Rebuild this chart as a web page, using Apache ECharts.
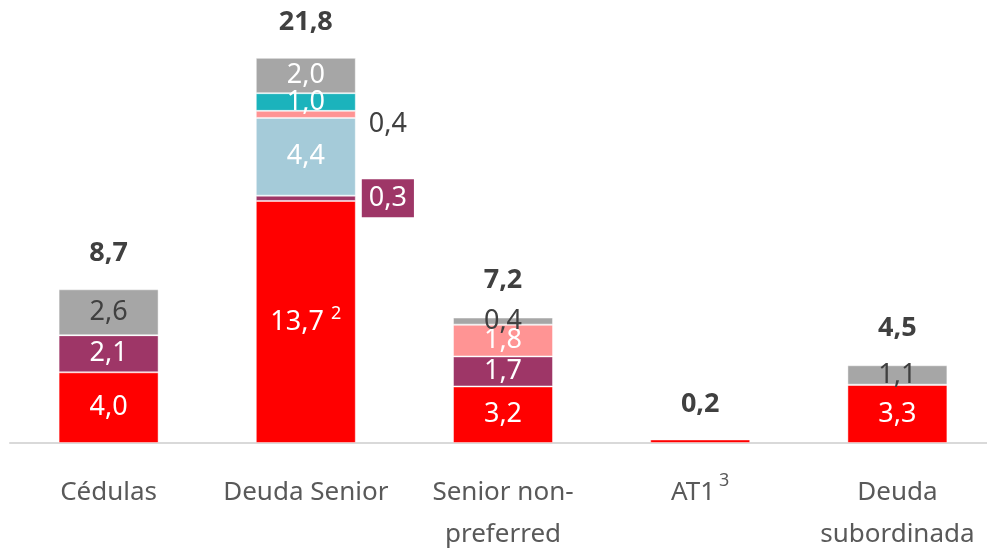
<!DOCTYPE html>
<html>
<head>
<meta charset="utf-8">
<script src="https://cdn.jsdelivr.net/npm/echarts@6/dist/echarts.min.js"></script>
<style>
  html, body { margin: 0; padding: 0; background: #fff; }
  #main { width: 987px; height: 553px; }
</style>
</head>
<body>
<div id="main"></div>
<script>
// categorias
var categorias = ['Cédulas', 'Deuda Senior', 'Senior non-\npreferred', 'AT1', 'Deuda\nsubordinada'];

// tramos apilados (mm EUR), de abajo arriba
var rojo     = [4.0, 13.7, 3.2, 0.2, 3.3];
var morado   = [2.1, 0.3, 1.7, 0, 0];
var azul     = [0, 4.4, 0, 0, 0];
var salmon   = [0, 0.4, 1.8, 0, 0];
var turquesa = [0, 1.0, 0, 0, 0];
var gris     = [2.6, 2.0, 0.4, 0, 1.1];

// totales que se muestran encima
var totales = [8.7, 21.8, 7.2, 0.2, 4.5];

var fuente = '"Noto Sans", "Open Sans", sans-serif';
var oscuro = '#404040';

function coma(v) {
    return v.toFixed(1).replace('.', ',');
}

function tramo(nombre, datos, color, colorTexto) {
    return {
        name: nombre,
        type: 'bar',
        stack: 'total',
        barWidth: 100,
        barGap: '-100%',
        itemStyle: { color: color, borderColor: 'rgba(255,255,255,0.45)', borderWidth: 1 },
        label: {
            show: true,
            position: 'inside',
            color: colorTexto,
            fontFamily: fuente,
            fontSize: 27,
            formatter: function (p) { return p.value ? coma(p.value) : ''; }
        },
        data: datos.slice()
    };
}

var sRojo = tramo('rojo', rojo, '#FF0000', '#fff');
// 13,7 con llamada 2
sRojo.label.formatter = function (p) {
    if (p.dataIndex === 1) return coma(p.value) + ' {sup|2}';
    return coma(p.value);
};
sRojo.label.rich = { sup: { fontSize: 18, color: '#fff', fontFamily: fuente, verticalAlign: 'top', padding: [0, 0, 16, 0] } };
sRojo.data[3] = { value: rojo[3], label: { show: false } };

var sMorado = tramo('morado', morado, '#9E3667', '#fff');
sMorado.data[1] = {
    value: morado[1],
    label: { position: 'right', distance: 6, backgroundColor: '#9E3667', padding: [6, 7, 5, 7] }
};

var sAzul = tramo('azul', azul, '#A5CBD9', '#fff');

var sSalmon = tramo('salmon', salmon, '#FF9494', '#fff');
sSalmon.data[1] = {
    value: salmon[1],
    label: { position: 'right', distance: 13, offset: [0, 10], color: oscuro }
};

var sTurquesa = tramo('turquesa', turquesa, '#1BB3BC', '#fff');

var sGris = tramo('gris', gris, '#A6A6A6', oscuro);
sGris.data[1] = { value: gris[1], label: { color: '#fff' } };

var sTotal = {
    name: 'total',
    type: 'bar',
    barWidth: 100,
    barGap: '-100%',
    z: 1,
    itemStyle: { color: 'rgba(0,0,0,0)' },
    label: {
        show: true,
        position: 'top',
        distance: 22,
        color: oscuro,
        fontFamily: fuente,
        fontSize: 27,
        fontWeight: 'bold',
        formatter: function (p) { return coma(p.value); }
    },
    data: totales
};

var myChart = echarts.init(document.getElementById('main'));
var option = {
    animation: false,
    grid: { left: 10, width: 986, top: 19, bottom: 110, outerBoundsMode: 'none', containLabel: false },
    xAxis: {
        type: 'category',
        data: categorias,
        axisLine: { lineStyle: { color: '#D9D9D9', width: 2 } },
        axisTick: { show: false },
        axisLabel: {
            interval: 0,
            hideOverlap: false,
            color: '#595959',
            fontFamily: fuente,
            fontSize: 26,
            lineHeight: 42,
            margin: 29,
            formatter: function (v) { return v === 'AT1' ? 'AT1{sup|3}' : v; },
            rich: { sup: { fontSize: 18, color: '#595959', fontFamily: fuente, verticalAlign: 'top', padding: [0, 0, 16, 4] } }
        }
    },
    yAxis: {
        type: 'value',
        min: 0,
        max: 24,
        show: false
    },
    series: [sRojo, sMorado, sAzul, sSalmon, sTurquesa, sGris, sTotal]
};
myChart.setOption(option);
</script>
</body>
</html>
